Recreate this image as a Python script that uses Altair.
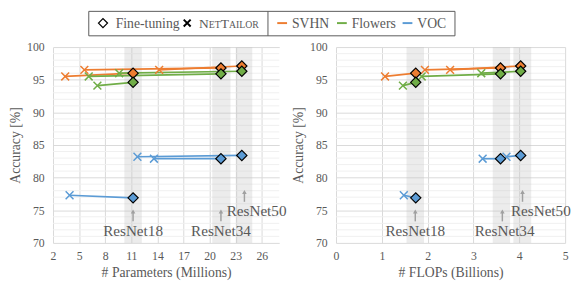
import altair as alt
import pandas as pd

FONT = "'Liberation Serif', 'Times New Roman', serif"
GRAY = "#595959"

resnets = ["ResNet18", "ResNet34", "ResNet50"]
datasets = ["SVHN", "Flowers", "VOC"]
colors = ["#ED7D31", "#70AD47", "#5B9BD5"]

# Fine-tuning (full ResNet) results
ft_params = [11.2, 21.3, 23.7]
ft_flops = [1.74, 3.59, 4.03]
ft_acc = {"SVHN": [96.0, 96.8, 97.1], "Flowers": [94.6, 95.9, 96.3], "VOC": [76.9, 82.9, 83.4]}

# NetTailor results
nt_params = {"SVHN": [3.4, 5.6, 14.2], "Flowers": [7.1, 6.1, 9.6], "VOC": [3.9, 13.6, 11.7]}
nt_flops = {"SVHN": [1.07, 1.94, 2.49], "Flowers": [1.46, 1.87, 3.17], "VOC": [1.48, 3.20, 3.72]}
nt_acc = {"SVHN": [95.5, 96.5, 96.5], "Flowers": [94.1, 95.5, 96.0], "VOC": [77.3, 82.9, 83.2]}

# shaded bands around each ResNet
band_params_lo = [10.2, 20.3, 23.0]
band_params_hi = [12.2, 22.4, 24.9]
band_flops_lo = [1.54, 3.42, 3.87]
band_flops_hi = [1.92, 3.80, 4.26]

# annotation arrows / labels
arrow_params = [11.2, 21.3, 24.0]
arrow_flops = [1.73, 3.63, 4.07]
arrow_lo = [73.3, 73.3, 76.3]
arrow_hi = [74.8, 74.8, 77.8]
label_params = [11.2, 21.3, 25.4]
label_flops = [1.73, 3.68, 4.47]
label_y = [71.8, 71.8, 74.9]

y_ticks = [70, 75, 80, 85, 90, 95, 100]
y_minor = [v for v in range(71, 100) if v % 5 != 0]
params_ticks = [2, 5, 8, 11, 14, 17, 20, 23, 26]
flops_ticks = [0, 1, 2, 3, 4, 5]

rows = []
for d in datasets:
    for i, r in enumerate(resnets):
        rows.append(dict(dataset=d, resnet=r, pair=d + r, kind="NetTailor",
                         params=nt_params[d][i], flops=nt_flops[d][i], acc=nt_acc[d][i]))
        rows.append(dict(dataset=d, resnet=r, pair=d + r, kind="Fine-tuning",
                         params=ft_params[i], flops=ft_flops[i], acc=ft_acc[d][i]))
df = pd.DataFrame(rows)

CROSS = "M-1,-1L1,1M-1,1L1,-1"
H = 200
color_scale = alt.Scale(domain=datasets, range=colors)


def make_panel(xfield, band_lo, band_hi, arrow_x, label_x, xdomain, xticks, xtitle, width):
    def X(field):
        return alt.X(f"{field}:Q", scale=alt.Scale(domain=xdomain, nice=False, zero=False),
                     axis=alt.Axis(values=xticks, title=xtitle, grid=True, ticks=False, domain=False,
                                   labelPadding=8, titlePadding=4, labelFlush=False))

    def Y(field):
        return alt.Y(f"{field}:Q", scale=alt.Scale(domain=[70, 100], nice=False, zero=False),
                     axis=alt.Axis(values=y_ticks, title="Accuracy [%]", grid=True, ticks=False,
                                   domain=False, labelPadding=9, titlePadding=4.5, labelFlush=False))

    col = alt.Color("dataset:N", scale=color_scale, legend=None)
    minor = alt.Chart(pd.DataFrame({"v": y_minor})).mark_rule(
        color="#f0f0f0", strokeWidth=1).encode(y=Y("v"))
    bands = alt.Chart(pd.DataFrame({"lo": band_lo, "hi": band_hi})).mark_rect(
        color="#bfbfbf", opacity=0.3).encode(x=X("lo"), x2="hi:Q", y=alt.value(0), y2=alt.value(H))
    lines = alt.Chart(df).mark_line(strokeWidth=1.75).encode(
        x=X(xfield), y=Y("acc"), color=col, detail="pair:N")
    crosses = alt.Chart(df[df.kind == "NetTailor"]).mark_point(
        shape=CROSS, filled=False, size=64, strokeWidth=1.5, opacity=1).encode(
        x=X(xfield), y=Y("acc"), color=col)
    diamonds = alt.Chart(df[df.kind == "Fine-tuning"]).mark_point(
        shape="diamond", filled=True, size=110, stroke="black", strokeWidth=1.2, opacity=1).encode(
        x=X(xfield), y=Y("acc"), fill=col)
    ann = pd.DataFrame({"ax": arrow_x, "lo": arrow_lo, "hi": arrow_hi,
                        "lx": label_x, "ly": label_y, "label": resnets})
    arrows = alt.Chart(ann).mark_rule(color="#a0a0a0", strokeWidth=1.5).encode(
        x=X("ax"), y=Y("lo"), y2="hi:Q")
    heads = alt.Chart(ann).mark_point(shape="triangle-up", filled=True, size=22,
                                      color="#a0a0a0", opacity=1).encode(x=X("ax"), y=Y("hi"))
    labels = alt.Chart(ann).mark_text(font=FONT, fontSize=15.5, color=GRAY).encode(
        x=X("lx"), y=Y("ly"), text="label:N")
    return alt.layer(minor, bands, lines, crosses, diamonds, arrows, heads, labels).properties(
        width=width, height=H)


left = make_panel("params", band_params_lo, band_params_hi, arrow_params, label_params,
                  [2, 28], params_ticks, "# Parameters (Millions)", 231)
right = make_panel("flops", band_flops_lo, band_flops_hi, arrow_flops, label_flops,
                   [0, 5], flops_ticks, "# FLOPs (Billions)", 234)

# ---- custom legend ----
lg = alt.Chart(pd.DataFrame({"a": [0]}))
LY = 17.5  # text baseline
LFS = 14
leg_layers = [
    lg.mark_rect(fill="white", stroke=GRAY, strokeWidth=1).encode(
        x=alt.value(36.5), x2=alt.value(410.5), y=alt.value(0.5), y2=alt.value(25.5)),
    lg.mark_rule(color=GRAY, strokeWidth=1).encode(
        x=alt.value(219.5), y=alt.value(0.5), y2=alt.value(25.5)),
    lg.mark_point(shape="diamond", filled=True, fill="white", stroke="black", strokeWidth=1.3,
                  size=85, opacity=1).encode(x=alt.value(51), y=alt.value(12.5)),
    lg.mark_text(font=FONT, fontSize=LFS, color=GRAY, align="left", baseline="alphabetic").encode(
        x=alt.value(64), y=alt.value(LY), text=alt.value("Fine-tuning")),
    lg.mark_point(shape=CROSS, filled=False, stroke="black", strokeWidth=2, size=50,
                  opacity=1).encode(x=alt.value(137), y=alt.value(12.5)),
]
nt_parts = [("N", 13.8, 149), ("ET", 10, 158.96), ("T", 13.8, 171.18), ("AILOR", 10, 179.6)]
for txt, fs, xx in nt_parts:
    leg_layers.append(lg.mark_text(font=FONT, fontSize=fs, color=GRAY, align="left",
                                   baseline="alphabetic").encode(
        x=alt.value(xx), y=alt.value(LY), text=alt.value(txt)))
series_x = [229, 290, 357]
for name, c, sx in zip(datasets, colors, series_x):
    leg_layers.append(lg.mark_rule(color=c, strokeWidth=2).encode(
        x=alt.value(sx), x2=alt.value(sx + 10), y=alt.value(12.5)))
    leg_layers.append(lg.mark_text(font=FONT, fontSize=LFS, color=GRAY, align="left",
                                   baseline="alphabetic").encode(
        x=alt.value(sx + 15), y=alt.value(LY), text=alt.value(name)))
legend = alt.layer(*leg_layers).properties(width=410, height=25)

chart = alt.vconcat(
    legend,
    alt.hconcat(left, right, spacing=58, bounds="flush"),
    spacing=12, bounds="flush",
).properties(padding=0).configure_view(stroke=None).configure_axis(
    labelFont=FONT, labelFontSize=12, labelColor=GRAY,
    titleFont=FONT, titleFontSize=14, titleColor=GRAY, titleFontWeight="normal",
    gridColor="#d9d9d9", gridWidth=1,
)

chart.save("out.html", embed_options={"renderer": "svg", "actions": False})
